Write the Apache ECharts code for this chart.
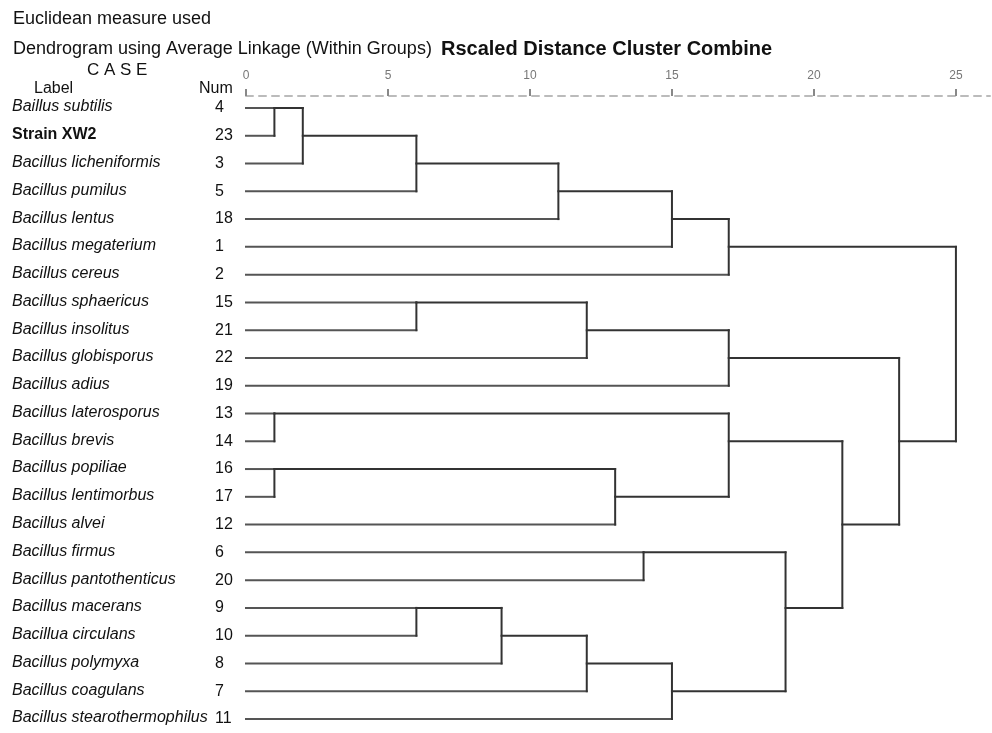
<!DOCTYPE html>
<html><head><meta charset="utf-8">
<script src="https://cdn.jsdelivr.net/npm/echarts@6/dist/echarts.min.js"></script>
<style>html,body{margin:0;padding:0;background:#fff}#c{width:992px;height:733px}</style>
</head><body><div id="c"></div>
<script>
const leafNames = ['Baillus subtilis','Strain XW2','Bacillus licheniformis','Bacillus pumilus','Bacillus lentus','Bacillus megaterium','Bacillus cereus','Bacillus sphaericus','Bacillus insolitus','Bacillus globisporus','Bacillus adius','Bacillus laterosporus','Bacillus brevis','Bacillus popiliae','Bacillus lentimorbus','Bacillus alvei','Bacillus firmus','Bacillus pantothenticus','Bacillus macerans','Bacillua circulans','Bacillus polymyxa','Bacillus coagulans','Bacillus stearothermophilus'];
const caseNums = [4,23,3,5,18,1,2,15,21,22,19,13,14,16,17,12,6,20,9,10,8,7,11];
// merges: node ids 0..22 are leaves (rows), 23+k is the k-th merge
const mergeLeft  = [0,23,24,25,26,27,7,29,30,11,13,33,32,16,18,37,38,39,36,35,31,28];
const mergeRight = [1,2,3,4,5,6,8,9,10,12,14,15,34,17,19,20,21,22,40,41,42,43];
const mergeDist  = [1,2,6,11,15,17,6,12,17,1,1,13,17,14,6,9,12,15,19,21,23,25];
const xTicks = [0,5,10,15,20,25];

// build segments from tree
const n = leafNames.length;
const row = [], dist = [];
for (let i = 0; i < n; i++) { row[i] = i; dist[i] = 0; }
const segs = [];
mergeDist.forEach((d, k) => {
  const L = mergeLeft[k], R = mergeRight[k], id = n + k;
  row[id] = Math.floor((row[L] + row[R]) / 2);
  dist[id] = d;
  segs.push([dist[L], row[L], d, row[L], L < n ? 0 : 1]);
  segs.push([dist[R], row[R], d, row[R], R < n ? 0 : 1]);
  segs.push([d, row[L], d, row[R], 1]);
});

const FONT = '"Liberation Sans", Arial, sans-serif';
const chart = echarts.init(document.getElementById('c'), null, {renderer: 'canvas'});
chart.setOption({
  animation: false,
  backgroundColor: '#fff',
  grid: {left: 246, right: 2, top: 108, bottom: 14},
  xAxis: {
    type: 'value', position: 'top', offset: 12, min: 0, max: 26.2,
    splitLine: {show: false},
    axisLine: {show: true, lineStyle: {color: '#bbb', width: 2, type: [7, 6]}},
    axisTick: {show: true, length: 7, lineStyle: {color: '#888', width: 2}, customValues: xTicks},
    axisLabel: {show: true, customValues: xTicks, color: '#777', fontSize: 12, fontFamily: FONT, margin: 14}
  },
  yAxis: [{
    type: 'category', inverse: true, boundaryGap: false, data: leafNames,
    axisLine: {show: false}, axisTick: {show: false}, splitLine: {show: false},
    axisLabel: {
      align: 'left', margin: 234, interval: 0, fontFamily: FONT, fontSize: 16, color: '#111',
      padding: [0, 0, 2, 0],
      formatter: v => v === 'Strain XW2' ? '{b|' + v + '}' : '{i|' + v + '}',
      rich: {
        i: {fontStyle: 'italic', fontSize: 16, fontFamily: FONT, color: '#111'},
        b: {fontWeight: 'bold', fontSize: 16, fontFamily: FONT, color: '#111'}
      }
    }
  }, {
    type: 'category', inverse: true, boundaryGap: false, position: 'left', data: caseNums.map(String),
    axisLine: {show: false}, axisTick: {show: false}, splitLine: {show: false},
    axisLabel: {align: 'left', margin: 31, interval: 0, fontFamily: FONT, fontSize: 16, color: '#111', padding: [0, 0, 3, 0]}
  }],
  graphic: [
    {type: 'text', left: 13, top: 10, style: {text: 'Euclidean measure used', font: '18px ' + FONT, fill: '#111'}},
    {type: 'text', left: 13, top: 40, style: {text: 'Dendrogram using Average Linkage (Within Groups)', font: '18px ' + FONT, fill: '#111'}},
    {type: 'text', left: 441, top: 39, style: {text: 'Rscaled Distance Cluster Combine', font: 'bold 20px ' + FONT, fill: '#111'}},
    {type: 'text', left: 87, top: 62, style: {text: 'C A S E', font: '17px ' + FONT, fill: '#111'}},
    {type: 'text', left: 34, top: 81, style: {text: 'Label', font: '16px ' + FONT, fill: '#111'}},
    {type: 'text', left: 199, top: 81, style: {text: 'Num', font: '16px ' + FONT, fill: '#111'}}
  ],
  series: [{
    type: 'custom',
    coordinateSystem: 'cartesian2d',
    xAxisIndex: 0, yAxisIndex: 0,
    data: segs,
    encode: {x: [0, 2], y: [1, 3]},
    renderItem: function (params, api) {
      const p1 = api.coord([api.value(0), api.value(1)]);
      const p2 = api.coord([api.value(2), api.value(3)]);
      const leaf = api.value(4) === 0;
      return {
        type: 'line',
        shape: {x1: p1[0], y1: p1[1], x2: p2[0], y2: p2[1]},
        style: {stroke: leaf ? '#555' : '#333', lineWidth: 2, lineCap: 'square'}
      };
    }
  }]
});
</script></body></html>
